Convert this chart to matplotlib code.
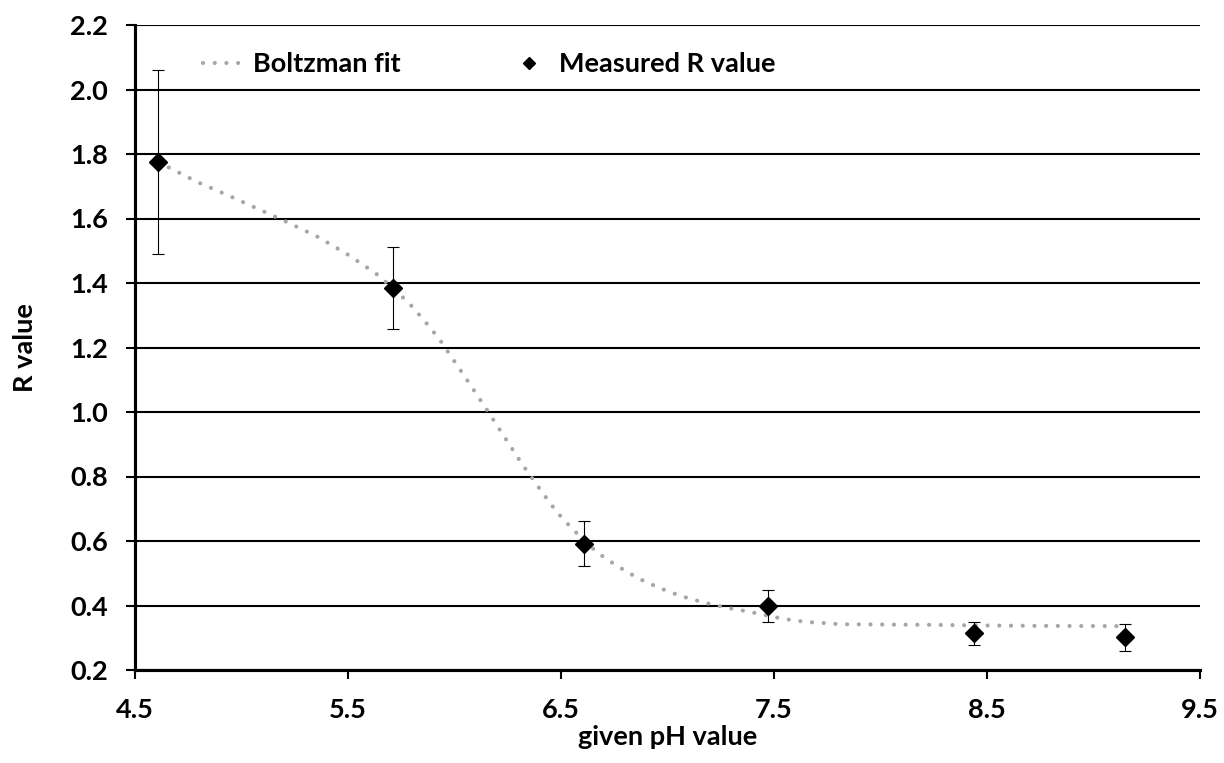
import matplotlib
matplotlib.use('Agg')
import matplotlib.pyplot as plt
from matplotlib.lines import Line2D

# Measured data
ph = [4.61, 5.71, 6.61, 7.47, 8.44, 9.15]
r_value = [1.775, 1.385, 0.591, 0.398, 0.314, 0.301]
r_err = [0.285, 0.128, 0.070, 0.050, 0.036, 0.043]

# Boltzman fit curve
fit_ph = [4.61, 4.65, 4.80, 4.95, 5.10, 5.20, 5.35, 5.49, 5.63, 5.71, 5.79, 5.86,
          5.93, 6.05, 6.14, 6.23, 6.32, 6.415, 6.48, 6.555, 6.67, 6.765, 6.86,
          6.96, 7.06, 7.16, 7.27, 7.38, 7.54, 7.65, 7.75, 7.81, 8.00, 8.25,
          8.50, 8.72, 9.12, 9.15]
fit_r = [1.775, 1.761, 1.711, 1.668, 1.623, 1.593, 1.546, 1.492, 1.430, 1.385,
         1.335, 1.282, 1.225, 1.108, 1.019, 0.927, 0.836, 0.748, 0.690, 0.636,
         0.564, 0.522, 0.485, 0.455, 0.430, 0.411, 0.394, 0.381, 0.359, 0.349,
         0.345, 0.342, 0.341, 0.340, 0.338, 0.337, 0.336, 0.336]

xticks = [4.5, 5.5, 6.5, 7.5, 8.5, 9.5]
yticks = [0.2, 0.4, 0.6, 0.8, 1.0, 1.2, 1.4, 1.6, 1.8, 2.0, 2.2]
xlabels = ['4.5', '5.5', '6.5', '7.5', '8.5', '9.5']
ylabels = ['0.2', '0.4', '0.6', '0.8', '1.0', '1.2', '1.4', '1.6', '1.8', '2.0', '2.2']

plt.rcParams['font.family'] = ['Lato', 'DejaVu Sans']
plt.rcParams['font.weight'] = 'bold'
FS = 19.5

fig = plt.figure(figsize=(12.24, 7.63), dpi=100)
ax = fig.add_axes([135/1224, 1-670/763, 1065/1224, 645/763])

fit_color = '#a6a6a6'
dots = (0, (0.01, 2.8))
ax.plot(fit_ph, fit_r, color=fit_color, lw=3, linestyle=dots,
        dash_capstyle='round', zorder=3)
ax.errorbar(ph, r_value, yerr=r_err, fmt='none', ecolor='black',
            elinewidth=0.8, capsize=4, capthick=0.8, zorder=4)
ax.plot(ph, r_value, 'D', color='black', ms=9, zorder=5, clip_on=False)

ax.set_xlim(4.5, 9.5)
ax.set_ylim(0.2, 2.2)
ax.set_xticks(xticks)
ax.set_xticklabels(xlabels)
ax.set_yticks(yticks)
ax.set_yticklabels(ylabels)

ax.set_axisbelow(True)
ax.yaxis.grid(True, color='black', lw=1.5)
for s in ['top', 'right']:
    ax.spines[s].set_visible(False)
for s in ['left', 'bottom']:
    ax.spines[s].set_linewidth(2.25)
    ax.spines[s].set_color('black')

ax.tick_params(axis='both', direction='out', length=6.5, width=1.5,
               labelsize=FS, colors='black')
ax.tick_params(axis='y', pad=13)
ax.tick_params(axis='x', pad=14)

ax.set_xlabel('given pH value', fontsize=FS, fontweight='bold', labelpad=2)
ax.set_ylabel('R value', fontsize=FS, fontweight='bold', labelpad=24)

handles = [
    Line2D([], [], color=fit_color, lw=3, linestyle=dots, dash_capstyle='round'),
    Line2D([], [], marker='D', color='black', ms=6, linestyle='none'),
]
ax.legend(handles, ['Boltzman fit', 'Measured R value'], ncol=2,
          loc='center left', bbox_to_anchor=((203-135)/1065, (670-64)/645),
          frameon=False, fontsize=FS, borderpad=0, borderaxespad=0,
          handlelength=1.44, handletextpad=0.41, columnspacing=4.0)

fig.savefig('out.png', dpi=100)
